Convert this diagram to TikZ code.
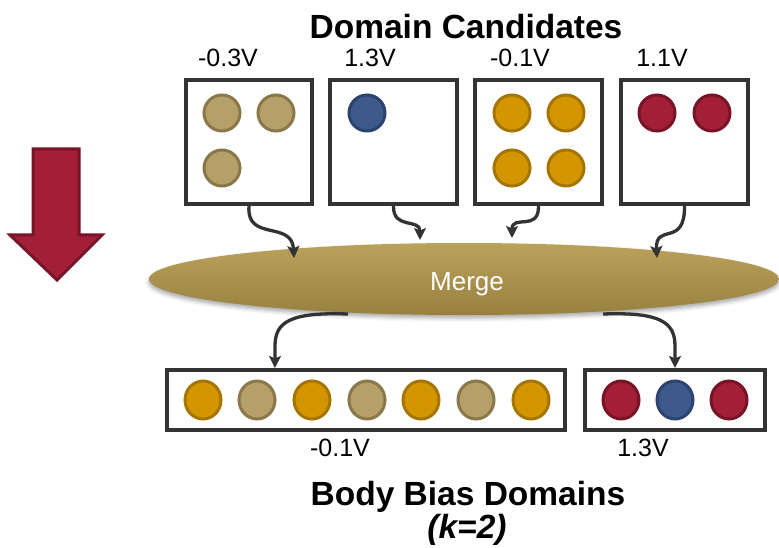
\documentclass[tikz,border=0pt]{standalone}
\usepackage{fontspec}
\setmainfont{Liberation Sans}
\usetikzlibrary{arrows.meta,shapes.geometric,calc,shadows.blur}

\definecolor{boxline}{HTML}{333333}
\definecolor{tanfill}{HTML}{B5A06A}
\definecolor{tanedge}{HTML}{8A784B}
\definecolor{goldfill}{HTML}{D49600}
\definecolor{goldedge}{HTML}{A67500}
\definecolor{bluefill}{HTML}{3E5A8A}
\definecolor{blueedge}{HTML}{2B436E}
\definecolor{redfill}{HTML}{A31F37}
\definecolor{rededge}{HTML}{791427}
\definecolor{mergetop}{HTML}{BBA25C}
\definecolor{mergebot}{HTML}{98803F}

\tikzset{
  cand/.style={draw=boxline, line width=3.6pt, fill=white, minimum width=126.5pt, minimum height=124.5pt, inner sep=0pt},
  dombox/.style={draw=boxline, line width=3.6pt, fill=white, minimum height=60.5pt, inner sep=0pt},
  dot/.style={circle, line width=3pt, minimum size=36pt, inner sep=0pt},
  odot/.style={ellipse, line width=3pt, minimum width=36pt, minimum height=38pt, inner sep=0pt},
  tandot/.style={fill=tanfill, draw=tanedge},
  golddot/.style={fill=goldfill, draw=goldedge},
  bluedot/.style={fill=bluefill, draw=blueedge},
  reddot/.style={fill=redfill, draw=rededge},
  volt/.style={font=\fontsize{25}{30}\selectfont, anchor=base, inner sep=0pt},
  heading/.style={font=\fontsize{33.5}{40}\selectfont\bfseries, anchor=base, inner sep=0pt},
  flow/.style={draw=boxline, line width=3.3pt, -{Stealth[length=12pt, width=12pt, inset=2.5pt]}},
}

\begin{document}
\begin{tikzpicture}[x=1pt, y=-1pt]
\useasboundingbox (0,0) rectangle (779,548);

% direction arrow on the left
\draw[fill=redfill, draw=rededge, line width=3pt, line join=miter]
  (33,149) -- (79,149) -- (79,235) -- (102,235) -- (57,280) -- (10,235) -- (33,235) -- cycle;

% headings
\node[heading] (title) at (466,39) {Domain Candidates};
\node[heading] (result) at (468,505) {Body Bias Domains};
\node[heading, font=\fontsize{33.5}{40}\selectfont\bfseries\itshape] (kval) at (467,538) {(k=2)};

% candidate boxes
\node[cand] (b1) at (249,142) {};
\node[cand] (b2) at (393.5,142) {};
\node[cand] (b3) at (538.5,142) {};
\node[cand] (b4) at (684.5,142) {};

\node[volt] (v1) at (228,67) {-0.3V};
\node[volt] (v2) at (370,67) {1.3V};
\node[volt] (v3) at (520,67) {-0.1V};
\node[volt] (v4) at (662,67) {1.1V};

% contents of the candidate boxes
\node[dot, tandot] (c11) at (222,113) {};
\node[dot, tandot] (c12) at (276,113) {};
\node[dot, tandot] (c13) at (222,168) {};
\node[dot, bluedot] (c21) at (367,113) {};
\node[dot, golddot] (c31) at (512,113) {};
\node[dot, golddot] (c32) at (566,113) {};
\node[dot, golddot] (c33) at (512,168) {};
\node[dot, golddot] (c34) at (566,168) {};
\node[dot, reddot] (c41) at (657,113) {};
\node[dot, reddot] (c42) at (712,113) {};

% merge step
\node[ellipse, minimum width=630pt, minimum height=72pt, inner sep=0pt,
      top color=mergetop, bottom color=mergebot, draw=none,
      blur shadow={shadow xshift=0pt, shadow yshift=-3pt, shadow opacity=35, shadow blur radius=4pt}]
      (merge) at (464,279) {};
\node[font=\fontsize{26}{30}\selectfont, text=white, anchor=base, inner sep=0pt] (mlabel) at (467,290) {Merge};

\coordinate (in1) at (294,258);
\coordinate (in2) at (420,240);
\coordinate (in3) at (512,238);
\coordinate (in4) at (657,258);
\coordinate (out1) at (348,314);
\coordinate (out2) at (603,314);

\draw[flow] (b1.south) .. controls (246,242) and (292,220) .. (in1);
\draw[flow] (b2.south) .. controls (393,230) and (420,218) .. (in2);
\draw[flow] (b3.south) .. controls (539,232) and (512,214) .. (in3);
\draw[flow] (b4.south) .. controls (685,248) and (655,222) .. (in4);

% resulting domains
\node[dombox, minimum width=398.5pt] (d1) at (366,400) {};
\node[dombox, minimum width=180.5pt] (d2) at (675,400) {};

\draw[flow] (out1) .. controls (290,312) and (275,322) .. (275,346) -- ($(d1.north west)+(110,0)$);
\draw[flow] (out2) .. controls (660,312) and (675,322) .. (675,346) -- (d2.north);

\node[odot, golddot] (e1) at (203,400) {};
\node[odot, tandot] (e2) at (257,400) {};
\node[odot, golddot] (e3) at (312,400) {};
\node[odot, tandot] (e4) at (367,400) {};
\node[odot, golddot] (e5) at (421,400) {};
\node[odot, tandot] (e6) at (476,400) {};
\node[odot, golddot] (e7) at (531,400) {};
\node[odot, reddot] (f1) at (621,400) {};
\node[odot, bluedot] (f2) at (675,400) {};
\node[odot, reddot] (f3) at (729,400) {};

\node[volt] (w1) at (340,456) {-0.1V};
\node[volt] (w2) at (643,456) {1.3V};
\end{tikzpicture}
\end{document}
